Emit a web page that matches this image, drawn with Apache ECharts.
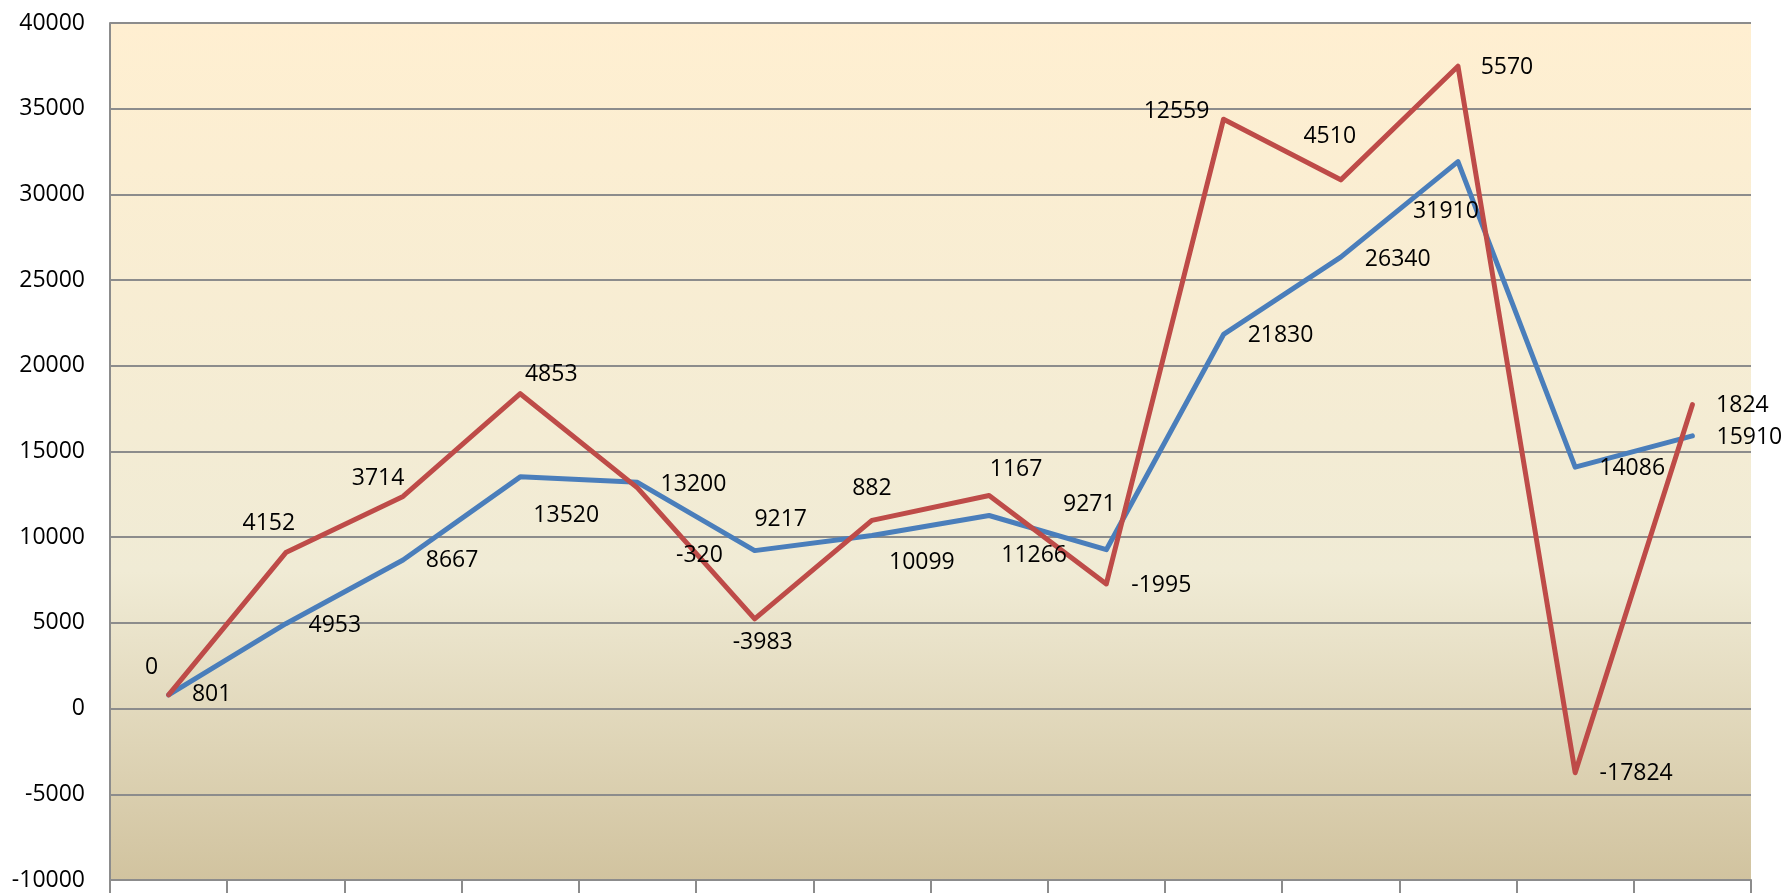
<!DOCTYPE html>
<html>
<head>
<meta charset="utf-8">
<style>
  html, body { margin: 0; padding: 0; background: #fff; }
  #app { width: 1785px; height: 893px; }
</style>
<script src="https://cdn.jsdelivr.net/npm/echarts@6/dist/echarts.min.js"></script>
</head>
<body>
<div id="app"></div>
<script>
var categories = ['1', '2', '3', '4', '5', '6', '7', '8', '9', '10', '11', '12', '13', '14'];
var baseValues = [801, 4953, 8667, 13520, 13200, 9217, 10099, 11266, 9271, 21830, 26340, 31910, 14086, 15910];
var changeValues = [0, 4152, 3714, 4853, -320, -3983, 882, 1167, -1995, 12559, 4510, 5570, -17824, 1824];

// where each label sits, measured from its point (px)
var baseLabelOffsets = [[43, 0], [49, 2], [49, 0], [46, 39], [56, 2], [26, -31], [50, 27],
    [45, 40], [-17, -45], [57, 1], [57, 2], [-12, 50], [57, 1], [57, 2]];
var changeLabelOffsets = [[-17, -27], [-17, -29], [-25, -18], [31, -19], [62, 68], [8, 24], [0, -32],
    [27, -26], [55, 2], [-47, -8], [-11, -43], [49, 1], [61, 1], [50, 1]];

var labelFont = {
    color: '#000',
    fontFamily: 'Open Sans',
    fontSize: 23
};

function withLabels(values, offsets) {
    return values.map(function (v, i) {
        return {
            value: v,
            label: { offset: offsets[i] }
        };
    });
}

function lineSeries(name, values, offsets, color) {
    return {
        name: name,
        type: 'line',
        stack: 'total',
        stackStrategy: 'all',
        data: withLabels(values, offsets),
        symbol: 'circle',
        symbolSize: 1,
        showSymbol: true,
        itemStyle: { color: color },
        lineStyle: { color: color, width: 5, cap: 'round', join: 'round' },
        label: Object.assign({
            show: true,
            position: 'inside',
            align: 'center',
            verticalAlign: 'middle'
        }, labelFont),
        emphasis: { disabled: true },
        animation: false
    };
}

var option = {
    animation: false,
    grid: {
        left: 110,
        right: 34,
        top: 23,
        bottom: 13,
        show: true,
        borderWidth: 0,
        backgroundColor: new echarts.graphic.LinearGradient(0, 0, 0, 1, [
            { offset: 0, color: '#FFEFD1' },
            { offset: 0.64, color: '#F0EBD5' },
            { offset: 1, color: '#D1C39F' }
        ])
    },
    xAxis: {
        type: 'category',
        data: categories,
        boundaryGap: true,
        axisLine: { onZero: false, lineStyle: { color: '#8c8c8c', width: 2 } },
        axisTick: { show: true, interval: 0, length: 16, lineStyle: { color: '#8c8c8c', width: 2 } },
        axisLabel: { show: false }
    },
    yAxis: {
        type: 'value',
        min: -10000,
        max: 40000,
        interval: 5000,
        axisLine: { show: true, lineStyle: { color: '#8c8c8c', width: 2 } },
        axisTick: { show: false },
        axisLabel: Object.assign({
            margin: 25,
            formatter: function (val) { return String(val); }
        }, labelFont),
        splitLine: { lineStyle: { color: '#8c8c8c', width: 2 } }
    },
    series: [
        lineSeries('base', baseValues, baseLabelOffsets, '#4A7EBB'),
        lineSeries('change', changeValues, changeLabelOffsets, '#BE4B48')
    ]
};

var myChart = echarts.init(document.getElementById('app'));
myChart.setOption(option);
</script>
</body>
</html>
